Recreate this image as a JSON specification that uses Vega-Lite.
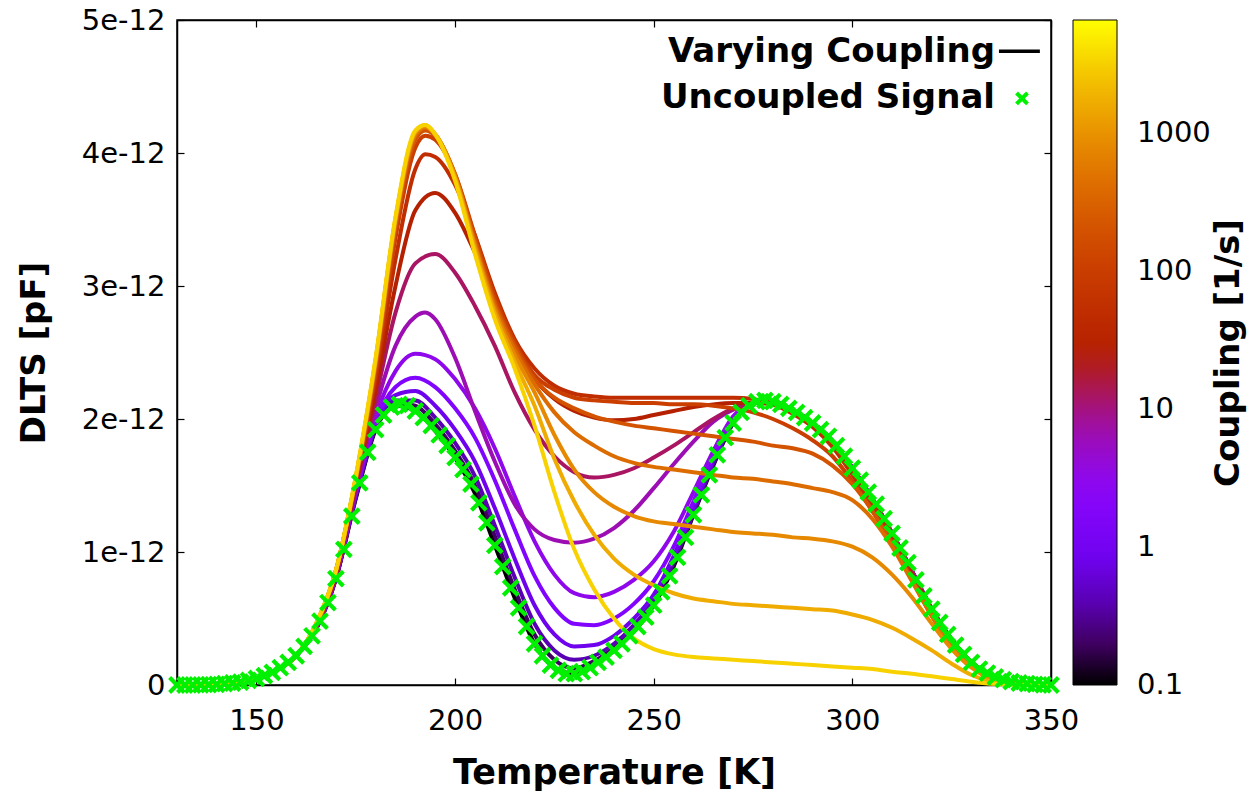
{
"$schema": "https://vega.github.io/schema/vega-lite/v6.json",
"width": 874, "height": 665,
"autosize": {"type": "none"},
"padding": {"left": 177, "top": 20, "right": 198, "bottom": 110},
"background": "white",
"datasets": {
"curves": [
{"c":0.1,"T":130,"v":0},{"c":0.1,"T":140,"v":0.005},{"c":0.1,"T":150,"v":0.05},{"c":0.1,"T":155,"v":0.11},{"c":0.1,"T":160,"v":0.22},{"c":0.1,"T":165,"v":0.42},{"c":0.1,"T":170,"v":0.80},{"c":0.1,"T":175,"v":1.40},{"c":0.1,"T":180,"v":1.92},{"c":0.1,"T":185,"v":2.10},{"c":0.1,"T":190,"v":2.06},{"c":0.1,"T":195,"v":1.91},{"c":0.1,"T":200,"v":1.71},{"c":0.1,"T":205,"v":1.44},{"c":0.1,"T":210,"v":1.05},{"c":0.1,"T":215,"v":0.655},{"c":0.1,"T":220,"v":0.31},{"c":0.1,"T":225,"v":0.13},{"c":0.1,"T":230,"v":0.085},{"c":0.1,"T":235,"v":0.15},{"c":0.1,"T":240,"v":0.26},{"c":0.1,"T":245,"v":0.40},{"c":0.1,"T":250,"v":0.60},{"c":0.1,"T":255,"v":0.89},{"c":0.1,"T":260,"v":1.28},{"c":0.1,"T":265,"v":1.65},{"c":0.1,"T":270,"v":1.97},{"c":0.1,"T":275,"v":2.12},{"c":0.1,"T":280,"v":2.13},{"c":0.1,"T":285,"v":2.065},{"c":0.1,"T":290,"v":1.97},{"c":0.1,"T":295,"v":1.835},{"c":0.1,"T":300,"v":1.63},{"c":0.1,"T":305,"v":1.40},{"c":0.1,"T":310,"v":1.14},{"c":0.1,"T":315,"v":0.855},{"c":0.1,"T":320,"v":0.57},{"c":0.1,"T":325,"v":0.34},{"c":0.1,"T":330,"v":0.17},{"c":0.1,"T":335,"v":0.075},{"c":0.1,"T":340,"v":0.025},{"c":0.1,"T":345,"v":0.008},{"c":0.1,"T":350,"v":0},
{"c":0.2,"T":130,"v":0},{"c":0.2,"T":140,"v":0.005},{"c":0.2,"T":150,"v":0.05},{"c":0.2,"T":155,"v":0.11},{"c":0.2,"T":160,"v":0.22},{"c":0.2,"T":165,"v":0.42},{"c":0.2,"T":170,"v":0.80},{"c":0.2,"T":175,"v":1.41},{"c":0.2,"T":180,"v":1.93},{"c":0.2,"T":185,"v":2.12},{"c":0.2,"T":190,"v":2.10},{"c":0.2,"T":195,"v":1.96},{"c":0.2,"T":200,"v":1.76},{"c":0.2,"T":205,"v":1.50},{"c":0.2,"T":210,"v":1.12},{"c":0.2,"T":215,"v":0.72},{"c":0.2,"T":220,"v":0.38},{"c":0.2,"T":225,"v":0.19},{"c":0.2,"T":230,"v":0.125},{"c":0.2,"T":235,"v":0.18},{"c":0.2,"T":240,"v":0.28},{"c":0.2,"T":245,"v":0.42},{"c":0.2,"T":250,"v":0.62},{"c":0.2,"T":255,"v":0.91},{"c":0.2,"T":260,"v":1.29},{"c":0.2,"T":265,"v":1.66},{"c":0.2,"T":270,"v":1.97},{"c":0.2,"T":275,"v":2.12},{"c":0.2,"T":280,"v":2.13},{"c":0.2,"T":285,"v":2.065},{"c":0.2,"T":290,"v":1.97},{"c":0.2,"T":295,"v":1.835},{"c":0.2,"T":300,"v":1.63},{"c":0.2,"T":305,"v":1.40},{"c":0.2,"T":310,"v":1.14},{"c":0.2,"T":315,"v":0.855},{"c":0.2,"T":320,"v":0.57},{"c":0.2,"T":325,"v":0.34},{"c":0.2,"T":330,"v":0.17},{"c":0.2,"T":335,"v":0.075},{"c":0.2,"T":340,"v":0.025},{"c":0.2,"T":345,"v":0.008},{"c":0.2,"T":350,"v":0},
{"c":0.4,"T":130,"v":0},{"c":0.4,"T":140,"v":0.005},{"c":0.4,"T":150,"v":0.05},{"c":0.4,"T":155,"v":0.11},{"c":0.4,"T":160,"v":0.22},{"c":0.4,"T":165,"v":0.42},{"c":0.4,"T":170,"v":0.80},{"c":0.4,"T":175,"v":1.42},{"c":0.4,"T":180,"v":1.94},{"c":0.4,"T":185,"v":2.14},{"c":0.4,"T":190,"v":2.14},{"c":0.4,"T":195,"v":2.01},{"c":0.4,"T":200,"v":1.82},{"c":0.4,"T":205,"v":1.57},{"c":0.4,"T":210,"v":1.20},{"c":0.4,"T":215,"v":0.81},{"c":0.4,"T":220,"v":0.46},{"c":0.4,"T":225,"v":0.26},{"c":0.4,"T":230,"v":0.19},{"c":0.4,"T":235,"v":0.22},{"c":0.4,"T":240,"v":0.31},{"c":0.4,"T":245,"v":0.45},{"c":0.4,"T":250,"v":0.64},{"c":0.4,"T":255,"v":0.93},{"c":0.4,"T":260,"v":1.30},{"c":0.4,"T":265,"v":1.67},{"c":0.4,"T":270,"v":1.98},{"c":0.4,"T":275,"v":2.12},{"c":0.4,"T":280,"v":2.13},{"c":0.4,"T":285,"v":2.065},{"c":0.4,"T":290,"v":1.97},{"c":0.4,"T":295,"v":1.835},{"c":0.4,"T":300,"v":1.63},{"c":0.4,"T":305,"v":1.40},{"c":0.4,"T":310,"v":1.14},{"c":0.4,"T":315,"v":0.855},{"c":0.4,"T":320,"v":0.57},{"c":0.4,"T":325,"v":0.34},{"c":0.4,"T":330,"v":0.17},{"c":0.4,"T":335,"v":0.075},{"c":0.4,"T":340,"v":0.025},{"c":0.4,"T":345,"v":0.008},{"c":0.4,"T":350,"v":0},
{"c":0.8,"T":130,"v":0},{"c":0.8,"T":140,"v":0.005},{"c":0.8,"T":150,"v":0.05},{"c":0.8,"T":155,"v":0.11},{"c":0.8,"T":160,"v":0.22},{"c":0.8,"T":165,"v":0.42},{"c":0.8,"T":170,"v":0.81},{"c":0.8,"T":175,"v":1.43},{"c":0.8,"T":180,"v":1.96},{"c":0.8,"T":185,"v":2.18},{"c":0.8,"T":190,"v":2.21},{"c":0.8,"T":195,"v":2.10},{"c":0.8,"T":200,"v":1.92},{"c":0.8,"T":205,"v":1.68},{"c":0.8,"T":210,"v":1.33},{"c":0.8,"T":215,"v":0.95},{"c":0.8,"T":220,"v":0.60},{"c":0.8,"T":225,"v":0.38},{"c":0.8,"T":230,"v":0.29},{"c":0.8,"T":235,"v":0.30},{"c":0.8,"T":240,"v":0.37},{"c":0.8,"T":245,"v":0.50},{"c":0.8,"T":250,"v":0.68},{"c":0.8,"T":255,"v":0.97},{"c":0.8,"T":260,"v":1.33},{"c":0.8,"T":265,"v":1.69},{"c":0.8,"T":270,"v":1.99},{"c":0.8,"T":275,"v":2.12},{"c":0.8,"T":280,"v":2.13},{"c":0.8,"T":285,"v":2.065},{"c":0.8,"T":290,"v":1.97},{"c":0.8,"T":295,"v":1.835},{"c":0.8,"T":300,"v":1.63},{"c":0.8,"T":305,"v":1.40},{"c":0.8,"T":310,"v":1.14},{"c":0.8,"T":315,"v":0.855},{"c":0.8,"T":320,"v":0.57},{"c":0.8,"T":325,"v":0.34},{"c":0.8,"T":330,"v":0.17},{"c":0.8,"T":335,"v":0.075},{"c":0.8,"T":340,"v":0.025},{"c":0.8,"T":345,"v":0.008},{"c":0.8,"T":350,"v":0},
{"c":1.6,"T":130,"v":0},{"c":1.6,"T":140,"v":0.005},{"c":1.6,"T":150,"v":0.05},{"c":1.6,"T":155,"v":0.11},{"c":1.6,"T":160,"v":0.22},{"c":1.6,"T":165,"v":0.43},{"c":1.6,"T":170,"v":0.81},{"c":1.6,"T":175,"v":1.44},{"c":1.6,"T":180,"v":1.98},{"c":1.6,"T":185,"v":2.24},{"c":1.6,"T":190,"v":2.31},{"c":1.6,"T":195,"v":2.24},{"c":1.6,"T":200,"v":2.08},{"c":1.6,"T":205,"v":1.86},{"c":1.6,"T":210,"v":1.54},{"c":1.6,"T":215,"v":1.17},{"c":1.6,"T":220,"v":0.82},{"c":1.6,"T":225,"v":0.58},{"c":1.6,"T":230,"v":0.46},{"c":1.6,"T":235,"v":0.45},{"c":1.6,"T":240,"v":0.50},{"c":1.6,"T":245,"v":0.61},{"c":1.6,"T":250,"v":0.78},{"c":1.6,"T":255,"v":1.04},{"c":1.6,"T":260,"v":1.38},{"c":1.6,"T":265,"v":1.72},{"c":1.6,"T":270,"v":2.00},{"c":1.6,"T":275,"v":2.12},{"c":1.6,"T":280,"v":2.13},{"c":1.6,"T":285,"v":2.065},{"c":1.6,"T":290,"v":1.97},{"c":1.6,"T":295,"v":1.835},{"c":1.6,"T":300,"v":1.63},{"c":1.6,"T":305,"v":1.40},{"c":1.6,"T":310,"v":1.14},{"c":1.6,"T":315,"v":0.855},{"c":1.6,"T":320,"v":0.57},{"c":1.6,"T":325,"v":0.34},{"c":1.6,"T":330,"v":0.17},{"c":1.6,"T":335,"v":0.075},{"c":1.6,"T":340,"v":0.025},{"c":1.6,"T":345,"v":0.008},{"c":1.6,"T":350,"v":0},
{"c":3.2,"T":130,"v":0},{"c":3.2,"T":140,"v":0.005},{"c":3.2,"T":150,"v":0.05},{"c":3.2,"T":155,"v":0.11},{"c":3.2,"T":160,"v":0.22},{"c":3.2,"T":165,"v":0.43},{"c":3.2,"T":170,"v":0.82},{"c":3.2,"T":175,"v":1.45},{"c":3.2,"T":180,"v":2.02},{"c":3.2,"T":185,"v":2.36},{"c":3.2,"T":190,"v":2.49},{"c":3.2,"T":195,"v":2.45},{"c":3.2,"T":200,"v":2.30},{"c":3.2,"T":205,"v":2.08},{"c":3.2,"T":210,"v":1.78},{"c":3.2,"T":215,"v":1.42},{"c":3.2,"T":220,"v":1.08},{"c":3.2,"T":225,"v":0.83},{"c":3.2,"T":230,"v":0.69},{"c":3.2,"T":235,"v":0.66},{"c":3.2,"T":240,"v":0.70},{"c":3.2,"T":245,"v":0.79},{"c":3.2,"T":250,"v":0.93},{"c":3.2,"T":255,"v":1.15},{"c":3.2,"T":260,"v":1.45},{"c":3.2,"T":265,"v":1.76},{"c":3.2,"T":270,"v":2.02},{"c":3.2,"T":275,"v":2.12},{"c":3.2,"T":280,"v":2.13},{"c":3.2,"T":285,"v":2.065},{"c":3.2,"T":290,"v":1.97},{"c":3.2,"T":295,"v":1.835},{"c":3.2,"T":300,"v":1.63},{"c":3.2,"T":305,"v":1.40},{"c":3.2,"T":310,"v":1.14},{"c":3.2,"T":315,"v":0.855},{"c":3.2,"T":320,"v":0.57},{"c":3.2,"T":325,"v":0.34},{"c":3.2,"T":330,"v":0.17},{"c":3.2,"T":335,"v":0.075},{"c":3.2,"T":340,"v":0.025},{"c":3.2,"T":345,"v":0.008},{"c":3.2,"T":350,"v":0},
{"c":6.4,"T":130,"v":0},{"c":6.4,"T":140,"v":0.005},{"c":6.4,"T":150,"v":0.05},{"c":6.4,"T":155,"v":0.11},{"c":6.4,"T":160,"v":0.22},{"c":6.4,"T":165,"v":0.43},{"c":6.4,"T":170,"v":0.82},{"c":6.4,"T":175,"v":1.47},{"c":6.4,"T":180,"v":2.08},{"c":6.4,"T":185,"v":2.55},{"c":6.4,"T":190,"v":2.77},{"c":6.4,"T":192.5,"v":2.80},{"c":6.4,"T":195,"v":2.75},{"c":6.4,"T":200,"v":2.46},{"c":6.4,"T":205,"v":2.06},{"c":6.4,"T":210,"v":1.68},{"c":6.4,"T":215,"v":1.36},{"c":6.4,"T":220,"v":1.17},{"c":6.4,"T":225,"v":1.09},{"c":6.4,"T":230,"v":1.07},{"c":6.4,"T":235,"v":1.10},{"c":6.4,"T":240,"v":1.18},{"c":6.4,"T":245,"v":1.31},{"c":6.4,"T":250,"v":1.48},{"c":6.4,"T":255,"v":1.66},{"c":6.4,"T":260,"v":1.83},{"c":6.4,"T":265,"v":1.98},{"c":6.4,"T":270,"v":2.07},{"c":6.4,"T":275,"v":2.12},{"c":6.4,"T":280,"v":2.13},{"c":6.4,"T":285,"v":2.065},{"c":6.4,"T":290,"v":1.97},{"c":6.4,"T":295,"v":1.835},{"c":6.4,"T":300,"v":1.63},{"c":6.4,"T":305,"v":1.40},{"c":6.4,"T":310,"v":1.14},{"c":6.4,"T":315,"v":0.855},{"c":6.4,"T":320,"v":0.57},{"c":6.4,"T":325,"v":0.34},{"c":6.4,"T":330,"v":0.17},{"c":6.4,"T":335,"v":0.075},{"c":6.4,"T":340,"v":0.025},{"c":6.4,"T":345,"v":0.008},{"c":6.4,"T":350,"v":0},
{"c":12.8,"T":130,"v":0},{"c":12.8,"T":140,"v":0.005},{"c":12.8,"T":150,"v":0.05},{"c":12.8,"T":155,"v":0.11},{"c":12.8,"T":160,"v":0.22},{"c":12.8,"T":165,"v":0.44},{"c":12.8,"T":170,"v":0.83},{"c":12.8,"T":175,"v":1.49},{"c":12.8,"T":180,"v":2.15},{"c":12.8,"T":185,"v":2.80},{"c":12.8,"T":190,"v":3.17},{"c":12.8,"T":195,"v":3.24},{"c":12.8,"T":200,"v":3.10},{"c":12.8,"T":205,"v":2.85},{"c":12.8,"T":210,"v":2.55},{"c":12.8,"T":215,"v":2.20},{"c":12.8,"T":220,"v":1.92},{"c":12.8,"T":225,"v":1.72},{"c":12.8,"T":230,"v":1.60},{"c":12.8,"T":235,"v":1.56},{"c":12.8,"T":240,"v":1.58},{"c":12.8,"T":245,"v":1.63},{"c":12.8,"T":250,"v":1.71},{"c":12.8,"T":255,"v":1.80},{"c":12.8,"T":260,"v":1.90},{"c":12.8,"T":265,"v":2.00},{"c":12.8,"T":270,"v":2.08},{"c":12.8,"T":275,"v":2.12},{"c":12.8,"T":280,"v":2.13},{"c":12.8,"T":285,"v":2.065},{"c":12.8,"T":290,"v":1.97},{"c":12.8,"T":295,"v":1.835},{"c":12.8,"T":300,"v":1.63},{"c":12.8,"T":305,"v":1.40},{"c":12.8,"T":310,"v":1.14},{"c":12.8,"T":315,"v":0.855},{"c":12.8,"T":320,"v":0.57},{"c":12.8,"T":325,"v":0.34},{"c":12.8,"T":330,"v":0.17},{"c":12.8,"T":335,"v":0.075},{"c":12.8,"T":340,"v":0.025},{"c":12.8,"T":345,"v":0.008},{"c":12.8,"T":350,"v":0},
{"c":25.6,"T":130,"v":0},{"c":25.6,"T":140,"v":0.005},{"c":25.6,"T":150,"v":0.05},{"c":25.6,"T":155,"v":0.11},{"c":25.6,"T":160,"v":0.22},{"c":25.6,"T":165,"v":0.44},{"c":25.6,"T":170,"v":0.84},{"c":25.6,"T":175,"v":1.51},{"c":25.6,"T":180,"v":2.22},{"c":25.6,"T":185,"v":3.00},{"c":25.6,"T":190,"v":3.57},{"c":25.6,"T":195,"v":3.70},{"c":25.6,"T":200,"v":3.55},{"c":25.6,"T":205,"v":3.25},{"c":25.6,"T":210,"v":2.90},{"c":25.6,"T":215,"v":2.55},{"c":25.6,"T":220,"v":2.30},{"c":25.6,"T":225,"v":2.15},{"c":25.6,"T":230,"v":2.06},{"c":25.6,"T":235,"v":2.01},{"c":25.6,"T":240,"v":1.99},{"c":25.6,"T":245,"v":2.00},{"c":25.6,"T":250,"v":2.03},{"c":25.6,"T":255,"v":2.06},{"c":25.6,"T":260,"v":2.09},{"c":25.6,"T":265,"v":2.11},{"c":25.6,"T":270,"v":2.12},{"c":25.6,"T":275,"v":2.12},{"c":25.6,"T":280,"v":2.11},{"c":25.6,"T":285,"v":2.05},{"c":25.6,"T":290,"v":1.96},{"c":25.6,"T":295,"v":1.82},{"c":25.6,"T":300,"v":1.61},{"c":25.6,"T":305,"v":1.38},{"c":25.6,"T":310,"v":1.12},{"c":25.6,"T":315,"v":0.83},{"c":25.6,"T":320,"v":0.56},{"c":25.6,"T":325,"v":0.33},{"c":25.6,"T":330,"v":0.165},{"c":25.6,"T":335,"v":0.07},{"c":25.6,"T":340,"v":0.024},{"c":25.6,"T":345,"v":0.008},{"c":25.6,"T":350,"v":0},
{"c":51.2,"T":130,"v":0},{"c":51.2,"T":140,"v":0.005},{"c":51.2,"T":150,"v":0.05},{"c":51.2,"T":155,"v":0.11},{"c":51.2,"T":160,"v":0.22},{"c":51.2,"T":165,"v":0.44},{"c":51.2,"T":170,"v":0.85},{"c":51.2,"T":175,"v":1.53},{"c":51.2,"T":180,"v":2.30},{"c":51.2,"T":185,"v":3.20},{"c":51.2,"T":190,"v":3.88},{"c":51.2,"T":192.5,"v":3.99},{"c":51.2,"T":195,"v":3.97},{"c":51.2,"T":200,"v":3.76},{"c":51.2,"T":205,"v":3.38},{"c":51.2,"T":210,"v":2.95},{"c":51.2,"T":215,"v":2.60},{"c":51.2,"T":220,"v":2.38},{"c":51.2,"T":225,"v":2.25},{"c":51.2,"T":230,"v":2.19},{"c":51.2,"T":235,"v":2.17},{"c":51.2,"T":240,"v":2.16},{"c":51.2,"T":245,"v":2.16},{"c":51.2,"T":250,"v":2.16},{"c":51.2,"T":255,"v":2.16},{"c":51.2,"T":260,"v":2.16},{"c":51.2,"T":265,"v":2.16},{"c":51.2,"T":270,"v":2.16},{"c":51.2,"T":275,"v":2.15},{"c":51.2,"T":280,"v":2.11},{"c":51.2,"T":285,"v":2.04},{"c":51.2,"T":290,"v":1.94},{"c":51.2,"T":295,"v":1.79},{"c":51.2,"T":300,"v":1.58},{"c":51.2,"T":305,"v":1.35},{"c":51.2,"T":310,"v":1.09},{"c":51.2,"T":315,"v":0.81},{"c":51.2,"T":320,"v":0.54},{"c":51.2,"T":325,"v":0.32},{"c":51.2,"T":330,"v":0.16},{"c":51.2,"T":335,"v":0.065},{"c":51.2,"T":340,"v":0.02},{"c":51.2,"T":345,"v":0.005},{"c":51.2,"T":350,"v":0},
{"c":102.4,"T":130,"v":0},{"c":102.4,"T":140,"v":0.005},{"c":102.4,"T":150,"v":0.05},{"c":102.4,"T":155,"v":0.11},{"c":102.4,"T":160,"v":0.22},{"c":102.4,"T":165,"v":0.45},{"c":102.4,"T":170,"v":0.85},{"c":102.4,"T":175,"v":1.54},{"c":102.4,"T":180,"v":2.35},{"c":102.4,"T":185,"v":3.36},{"c":102.4,"T":190,"v":4.04},{"c":102.4,"T":192.5,"v":4.13},{"c":102.4,"T":195,"v":4.10},{"c":102.4,"T":200,"v":3.84},{"c":102.4,"T":205,"v":3.38},{"c":102.4,"T":210,"v":2.92},{"c":102.4,"T":215,"v":2.58},{"c":102.4,"T":220,"v":2.33},{"c":102.4,"T":225,"v":2.22},{"c":102.4,"T":230,"v":2.16},{"c":102.4,"T":235,"v":2.14},{"c":102.4,"T":240,"v":2.13},{"c":102.4,"T":245,"v":2.12},{"c":102.4,"T":250,"v":2.12},{"c":102.4,"T":255,"v":2.11},{"c":102.4,"T":260,"v":2.11},{"c":102.4,"T":265,"v":2.10},{"c":102.4,"T":270,"v":2.08},{"c":102.4,"T":275,"v":2.05},{"c":102.4,"T":280,"v":2.00},{"c":102.4,"T":285,"v":1.93},{"c":102.4,"T":290,"v":1.84},{"c":102.4,"T":295,"v":1.72},{"c":102.4,"T":300,"v":1.53},{"c":102.4,"T":305,"v":1.31},{"c":102.4,"T":310,"v":1.06},{"c":102.4,"T":315,"v":0.79},{"c":102.4,"T":320,"v":0.52},{"c":102.4,"T":325,"v":0.31},{"c":102.4,"T":330,"v":0.15},{"c":102.4,"T":335,"v":0.06},{"c":102.4,"T":340,"v":0.018},{"c":102.4,"T":345,"v":0.005},{"c":102.4,"T":350,"v":0},
{"c":204.8,"T":130,"v":0},{"c":204.8,"T":140,"v":0.005},{"c":204.8,"T":150,"v":0.05},{"c":204.8,"T":155,"v":0.11},{"c":204.8,"T":160,"v":0.22},{"c":204.8,"T":165,"v":0.45},{"c":204.8,"T":170,"v":0.86},{"c":204.8,"T":175,"v":1.55},{"c":204.8,"T":180,"v":2.40},{"c":204.8,"T":185,"v":3.44},{"c":204.8,"T":190,"v":4.10},{"c":204.8,"T":192.5,"v":4.17},{"c":204.8,"T":195,"v":4.13},{"c":204.8,"T":200,"v":3.84},{"c":204.8,"T":205,"v":3.35},{"c":204.8,"T":210,"v":2.88},{"c":204.8,"T":215,"v":2.55},{"c":204.8,"T":220,"v":2.30},{"c":204.8,"T":225,"v":2.16},{"c":204.8,"T":230,"v":2.08},{"c":204.8,"T":235,"v":2.02},{"c":204.8,"T":240,"v":1.98},{"c":204.8,"T":245,"v":1.95},{"c":204.8,"T":250,"v":1.93},{"c":204.8,"T":255,"v":1.91},{"c":204.8,"T":260,"v":1.89},{"c":204.8,"T":265,"v":1.87},{"c":204.8,"T":270,"v":1.85},{"c":204.8,"T":275,"v":1.83},{"c":204.8,"T":280,"v":1.80},{"c":204.8,"T":285,"v":1.78},{"c":204.8,"T":290,"v":1.74},{"c":204.8,"T":295,"v":1.65},{"c":204.8,"T":300,"v":1.51},{"c":204.8,"T":305,"v":1.31},{"c":204.8,"T":310,"v":1.06},{"c":204.8,"T":315,"v":0.79},{"c":204.8,"T":320,"v":0.52},{"c":204.8,"T":325,"v":0.30},{"c":204.8,"T":330,"v":0.15},{"c":204.8,"T":335,"v":0.055},{"c":204.8,"T":340,"v":0.016},{"c":204.8,"T":345,"v":0.004},{"c":204.8,"T":350,"v":0},
{"c":409.6,"T":130,"v":0},{"c":409.6,"T":140,"v":0.005},{"c":409.6,"T":150,"v":0.05},{"c":409.6,"T":155,"v":0.11},{"c":409.6,"T":160,"v":0.22},{"c":409.6,"T":165,"v":0.45},{"c":409.6,"T":170,"v":0.86},{"c":409.6,"T":175,"v":1.55},{"c":409.6,"T":180,"v":2.42},{"c":409.6,"T":185,"v":3.48},{"c":409.6,"T":190,"v":4.13},{"c":409.6,"T":192.5,"v":4.19},{"c":409.6,"T":195,"v":4.14},{"c":409.6,"T":200,"v":3.83},{"c":409.6,"T":205,"v":3.32},{"c":409.6,"T":210,"v":2.85},{"c":409.6,"T":215,"v":2.52},{"c":409.6,"T":220,"v":2.26},{"c":409.6,"T":225,"v":2.05},{"c":409.6,"T":230,"v":1.90},{"c":409.6,"T":235,"v":1.80},{"c":409.6,"T":240,"v":1.72},{"c":409.6,"T":245,"v":1.67},{"c":409.6,"T":250,"v":1.64},{"c":409.6,"T":255,"v":1.62},{"c":409.6,"T":260,"v":1.60},{"c":409.6,"T":265,"v":1.58},{"c":409.6,"T":270,"v":1.56},{"c":409.6,"T":275,"v":1.55},{"c":409.6,"T":280,"v":1.53},{"c":409.6,"T":285,"v":1.51},{"c":409.6,"T":290,"v":1.48},{"c":409.6,"T":295,"v":1.45},{"c":409.6,"T":300,"v":1.39},{"c":409.6,"T":305,"v":1.25},{"c":409.6,"T":310,"v":1.04},{"c":409.6,"T":315,"v":0.78},{"c":409.6,"T":320,"v":0.52},{"c":409.6,"T":325,"v":0.30},{"c":409.6,"T":330,"v":0.14},{"c":409.6,"T":335,"v":0.05},{"c":409.6,"T":340,"v":0.015},{"c":409.6,"T":345,"v":0.004},{"c":409.6,"T":350,"v":0},
{"c":819.2,"T":130,"v":0},{"c":819.2,"T":140,"v":0.005},{"c":819.2,"T":150,"v":0.05},{"c":819.2,"T":155,"v":0.11},{"c":819.2,"T":160,"v":0.22},{"c":819.2,"T":165,"v":0.46},{"c":819.2,"T":170,"v":0.86},{"c":819.2,"T":175,"v":1.56},{"c":819.2,"T":180,"v":2.44},{"c":819.2,"T":185,"v":3.50},{"c":819.2,"T":190,"v":4.15},{"c":819.2,"T":192.5,"v":4.20},{"c":819.2,"T":195,"v":4.14},{"c":819.2,"T":200,"v":3.82},{"c":819.2,"T":205,"v":3.30},{"c":819.2,"T":210,"v":2.82},{"c":819.2,"T":215,"v":2.48},{"c":819.2,"T":220,"v":2.20},{"c":819.2,"T":225,"v":1.88},{"c":819.2,"T":230,"v":1.62},{"c":819.2,"T":235,"v":1.45},{"c":819.2,"T":240,"v":1.34},{"c":819.2,"T":245,"v":1.27},{"c":819.2,"T":250,"v":1.23},{"c":819.2,"T":255,"v":1.21},{"c":819.2,"T":260,"v":1.19},{"c":819.2,"T":265,"v":1.17},{"c":819.2,"T":270,"v":1.15},{"c":819.2,"T":275,"v":1.14},{"c":819.2,"T":280,"v":1.13},{"c":819.2,"T":285,"v":1.11},{"c":819.2,"T":290,"v":1.10},{"c":819.2,"T":295,"v":1.08},{"c":819.2,"T":300,"v":1.04},{"c":819.2,"T":305,"v":0.96},{"c":819.2,"T":310,"v":0.83},{"c":819.2,"T":315,"v":0.66},{"c":819.2,"T":320,"v":0.46},{"c":819.2,"T":325,"v":0.27},{"c":819.2,"T":330,"v":0.13},{"c":819.2,"T":335,"v":0.045},{"c":819.2,"T":340,"v":0.012},{"c":819.2,"T":345,"v":0.003},{"c":819.2,"T":350,"v":0},
{"c":1638.4,"T":130,"v":0},{"c":1638.4,"T":140,"v":0.005},{"c":1638.4,"T":150,"v":0.05},{"c":1638.4,"T":155,"v":0.11},{"c":1638.4,"T":160,"v":0.22},{"c":1638.4,"T":165,"v":0.46},{"c":1638.4,"T":170,"v":0.86},{"c":1638.4,"T":175,"v":1.56},{"c":1638.4,"T":180,"v":2.45},{"c":1638.4,"T":185,"v":3.51},{"c":1638.4,"T":190,"v":4.16},{"c":1638.4,"T":192.5,"v":4.21},{"c":1638.4,"T":195,"v":4.14},{"c":1638.4,"T":200,"v":3.81},{"c":1638.4,"T":205,"v":3.27},{"c":1638.4,"T":210,"v":2.79},{"c":1638.4,"T":215,"v":2.43},{"c":1638.4,"T":220,"v":2.10},{"c":1638.4,"T":225,"v":1.70},{"c":1638.4,"T":230,"v":1.38},{"c":1638.4,"T":235,"v":1.13},{"c":1638.4,"T":240,"v":0.95},{"c":1638.4,"T":245,"v":0.83},{"c":1638.4,"T":250,"v":0.75},{"c":1638.4,"T":255,"v":0.69},{"c":1638.4,"T":260,"v":0.65},{"c":1638.4,"T":265,"v":0.63},{"c":1638.4,"T":270,"v":0.61},{"c":1638.4,"T":275,"v":0.60},{"c":1638.4,"T":280,"v":0.59},{"c":1638.4,"T":285,"v":0.58},{"c":1638.4,"T":290,"v":0.57},{"c":1638.4,"T":295,"v":0.56},{"c":1638.4,"T":300,"v":0.53},{"c":1638.4,"T":305,"v":0.49},{"c":1638.4,"T":310,"v":0.43},{"c":1638.4,"T":315,"v":0.35},{"c":1638.4,"T":320,"v":0.26},{"c":1638.4,"T":325,"v":0.16},{"c":1638.4,"T":330,"v":0.075},{"c":1638.4,"T":335,"v":0.025},{"c":1638.4,"T":340,"v":0.006},{"c":1638.4,"T":345,"v":0.001},{"c":1638.4,"T":350,"v":0},
{"c":3276.8,"T":130,"v":0},{"c":3276.8,"T":140,"v":0.005},{"c":3276.8,"T":150,"v":0.05},{"c":3276.8,"T":155,"v":0.11},{"c":3276.8,"T":160,"v":0.22},{"c":3276.8,"T":165,"v":0.46},{"c":3276.8,"T":170,"v":0.86},{"c":3276.8,"T":175,"v":1.57},{"c":3276.8,"T":180,"v":2.46},{"c":3276.8,"T":185,"v":3.52},{"c":3276.8,"T":190,"v":4.17},{"c":3276.8,"T":192.5,"v":4.21},{"c":3276.8,"T":195,"v":4.14},{"c":3276.8,"T":200,"v":3.79},{"c":3276.8,"T":205,"v":3.24},{"c":3276.8,"T":210,"v":2.75},{"c":3276.8,"T":215,"v":2.38},{"c":3276.8,"T":220,"v":1.95},{"c":3276.8,"T":225,"v":1.45},{"c":3276.8,"T":230,"v":1.02},{"c":3276.8,"T":235,"v":0.72},{"c":3276.8,"T":240,"v":0.50},{"c":3276.8,"T":245,"v":0.35},{"c":3276.8,"T":250,"v":0.27},{"c":3276.8,"T":255,"v":0.23},{"c":3276.8,"T":260,"v":0.21},{"c":3276.8,"T":265,"v":0.20},{"c":3276.8,"T":270,"v":0.19},{"c":3276.8,"T":275,"v":0.18},{"c":3276.8,"T":280,"v":0.17},{"c":3276.8,"T":285,"v":0.16},{"c":3276.8,"T":290,"v":0.15},{"c":3276.8,"T":295,"v":0.14},{"c":3276.8,"T":300,"v":0.13},{"c":3276.8,"T":305,"v":0.12},{"c":3276.8,"T":310,"v":0.10},{"c":3276.8,"T":315,"v":0.085},{"c":3276.8,"T":320,"v":0.065},{"c":3276.8,"T":325,"v":0.045},{"c":3276.8,"T":330,"v":0.025},{"c":3276.8,"T":335,"v":0.01},{"c":3276.8,"T":340,"v":0.003},{"c":3276.8,"T":345,"v":0.001},{"c":3276.8,"T":350,"v":0}
],
"uncoupled": [
{"T":130,"v":0},{"T":132,"v":0},{"T":134,"v":0},{"T":136,"v":0.001},{"T":138,"v":0.003},{"T":140,"v":0.005},{"T":142,"v":0.01},{"T":144,"v":0.015},{"T":146,"v":0.022},{"T":148,"v":0.035},{"T":150,"v":0.05},{"T":152,"v":0.07},{"T":154,"v":0.095},{"T":156,"v":0.13},{"T":158,"v":0.17},{"T":160,"v":0.22},{"T":162,"v":0.29},{"T":164,"v":0.37},{"T":166,"v":0.48},{"T":168,"v":0.62},{"T":170,"v":0.80},{"T":172,"v":1.02},{"T":174,"v":1.27},{"T":176,"v":1.52},{"T":178,"v":1.75},{"T":180,"v":1.92},{"T":182,"v":2.03},{"T":184,"v":2.09},{"T":186,"v":2.11},{"T":188,"v":2.10},{"T":190,"v":2.06},{"T":192,"v":2.01},{"T":194,"v":1.95},{"T":196,"v":1.88},{"T":198,"v":1.80},{"T":200,"v":1.71},{"T":202,"v":1.62},{"T":204,"v":1.51},{"T":206,"v":1.37},{"T":208,"v":1.22},{"T":210,"v":1.05},{"T":212,"v":0.89},{"T":214,"v":0.73},{"T":216,"v":0.58},{"T":218,"v":0.44},{"T":220,"v":0.31},{"T":222,"v":0.22},{"T":224,"v":0.15},{"T":226,"v":0.11},{"T":228,"v":0.085},{"T":230,"v":0.085},{"T":232,"v":0.10},{"T":234,"v":0.13},{"T":236,"v":0.17},{"T":238,"v":0.21},{"T":240,"v":0.26},{"T":242,"v":0.31},{"T":244,"v":0.37},{"T":246,"v":0.44},{"T":248,"v":0.51},{"T":250,"v":0.60},{"T":252,"v":0.70},{"T":254,"v":0.82},{"T":256,"v":0.96},{"T":258,"v":1.11},{"T":260,"v":1.28},{"T":262,"v":1.43},{"T":264,"v":1.58},{"T":266,"v":1.73},{"T":268,"v":1.86},{"T":270,"v":1.97},{"T":272,"v":2.05},{"T":274,"v":2.10},{"T":276,"v":2.13},{"T":278,"v":2.14},{"T":280,"v":2.13},{"T":282,"v":2.11},{"T":284,"v":2.08},{"T":286,"v":2.05},{"T":288,"v":2.01},{"T":290,"v":1.97},{"T":292,"v":1.92},{"T":294,"v":1.87},{"T":296,"v":1.80},{"T":298,"v":1.72},{"T":300,"v":1.63},{"T":302,"v":1.54},{"T":304,"v":1.45},{"T":306,"v":1.36},{"T":308,"v":1.25},{"T":310,"v":1.14},{"T":312,"v":1.03},{"T":314,"v":0.92},{"T":316,"v":0.79},{"T":318,"v":0.67},{"T":320,"v":0.57},{"T":322,"v":0.47},{"T":324,"v":0.38},{"T":326,"v":0.30},{"T":328,"v":0.23},{"T":330,"v":0.17},{"T":332,"v":0.12},{"T":334,"v":0.09},{"T":336,"v":0.06},{"T":338,"v":0.04},{"T":340,"v":0.025},{"T":342,"v":0.015},{"T":344,"v":0.01},{"T":346,"v":0.005},{"T":348,"v":0.002},{"T":350,"v":0}
]
},
"layer": [
{
"data": {"name": "curves"},
"mark": {"type": "line", "strokeWidth": 4, "interpolate": "monotone"},
"encoding": {
"x": {"field": "T", "type": "quantitative", "scale": {"domain": [130, 350], "nice": false, "zero": false},
 "axis": {"orient": "bottom", "values": [150, 200, 250, 300, 350], "tickSize": -7, "labelPadding": 28, "labelFontSize": 29, "labelFlush": false, "title": "Temperature [K]", "titleFontSize": 35, "titleFontWeight": "bold", "titlePadding": 20}},
"y": {"field": "v", "type": "quantitative", "scale": {"domain": [0, 5], "nice": false, "zero": true},
 "axis": {"orient": "left", "values": [0, 1, 2, 3, 4, 5], "tickSize": -7, "labelPadding": 19, "labelFontSize": 29, "labelFlush": false, "labelExpr": "datum.value == 0 ? '0' : datum.value + 'e-12'", "title": "DLTS [pF]", "titleFontSize": 34, "titleFontWeight": "bold", "titlePadding": 30}},
"color": {"field": "c", "type": "quantitative",
 "scale": {"type": "log", "domain": [0.1,0.2,0.4,0.8,1.6,3.2,6.4,12.8,25.6,51.2,102.4,204.8,409.6,819.2,1638.4,3276.8,6553.6],
  "range": ["#000000","#400062","#5a00b4","#6e02ec","#8004ff","#8f08ec","#9c0db4","#a91562","#b42000","#bf2d00","#ca3e00","#d35300","#dd6c00","#e68900","#efab00","#f7d200","#ffff00"], "interpolate": "rgb"},
 "legend": {"orient": "right", "direction": "vertical", "offset": 14, "padding": 0, "gradientLength": 665, "gradientThickness": 44, "gradientStrokeColor": "black", "gradientStrokeWidth": 1, "values": [0.1, 1, 10, 100, 1000], "format": "~g", "labelFontSize": 29, "labelOffset": 20, "labelOverlap": false, "title": "Coupling [1/s]", "titleFontSize": 34, "titleFontWeight": "bold", "titleOrient": "right", "titleAnchor": "middle", "titleLimit": 1000, "titlePadding": 6,
  "encode": {"labels": {"update": {"baseline": {"value": "middle"}}}, "title": {"update": {"angle": {"value": -90}, "dy": {"value": 29}}}}}}
}
},
{
"data": {"name": "uncoupled"},
"mark": {"type": "point", "shape": "M-1,-1L1,1M-1,1L1,-1", "size": 220, "strokeWidth": 4.2, "color": "#00f000", "filled": false, "opacity": 1},
"encoding": {
"x": {"field": "T", "type": "quantitative", "axis": {"orient": "top", "values": [150, 200, 250, 300, 350], "tickSize": -7, "labels": false, "title": null}},
"y": {"field": "v", "type": "quantitative", "axis": {"orient": "right", "values": [0, 1, 2, 3, 4, 5], "tickSize": -7, "labels": false, "title": null}}
}
},
{
"data": {"values": [{}]},
"mark": {"type": "text", "align": "right", "baseline": "middle", "fontSize": 34, "fontWeight": "bold", "color": "black", "text": "Varying Coupling"},
"encoding": {"x": {"datum": 335.9, "type": "quantitative", "axis": null}, "y": {"datum": 4.76, "type": "quantitative", "axis": null}}
},
{
"data": {"values": [{}]},
"mark": {"type": "text", "align": "right", "baseline": "middle", "fontSize": 34, "fontWeight": "bold", "color": "black", "text": "Uncoupled Signal"},
"encoding": {"x": {"datum": 335.9, "type": "quantitative", "axis": null}, "y": {"datum": 4.41, "type": "quantitative", "axis": null}}
},
{
"data": {"values": [{}]},
"mark": {"type": "rule", "strokeWidth": 3.5, "color": "black"},
"encoding": {"x": {"datum": 336.9, "type": "quantitative", "axis": null}, "x2": {"datum": 347.2}, "y": {"datum": 4.765, "type": "quantitative", "axis": null}}
},
{
"data": {"values": [{}]},
"mark": {"type": "point", "shape": "M-1,-1L1,1M-1,1L1,-1", "size": 120, "strokeWidth": 4, "color": "#00f000", "filled": false, "opacity": 1},
"encoding": {"x": {"datum": 342.7, "type": "quantitative", "axis": null}, "y": {"datum": 4.41, "type": "quantitative", "axis": null}}
}
],
"resolve": {"axis": {"x": "independent", "y": "independent"}},
"config": {
"font": "DejaVu Sans",
"view": {"stroke": "black", "strokeWidth": 1.5},
"axis": {"grid": false, "domainColor": "black", "domainWidth": 1.5, "tickColor": "black", "tickWidth": 1.2, "labelColor": "black", "titleColor": "black", "labelFont": "DejaVu Sans", "titleFont": "DejaVu Sans"},
"legend": {"labelFont": "DejaVu Sans", "titleFont": "DejaVu Sans", "labelColor": "black", "titleColor": "black"}
}
}
